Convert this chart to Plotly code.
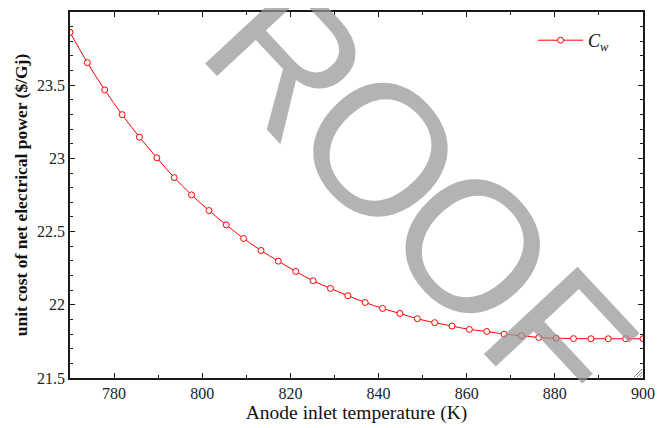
import plotly.graph_objects as go

# ---- data ----
temperature_K = [770.00, 773.94, 777.88, 781.82, 785.76, 789.70, 793.64, 797.58,
                 801.52, 805.45, 809.39, 813.33, 817.27, 821.21, 825.15, 829.09,
                 833.03, 836.97, 840.91, 844.85, 848.79, 852.73, 856.67, 860.61,
                 864.55, 868.48, 872.42, 876.36, 880.30, 884.24, 888.18, 892.12,
                 896.06, 900.00]
unit_cost_Cw = [23.861, 23.654, 23.468, 23.299, 23.145, 23.004, 22.869, 22.751,
                22.644, 22.546, 22.453, 22.371, 22.298, 22.228, 22.164, 22.112,
                22.062, 22.016, 21.975, 21.941, 21.905, 21.878, 21.855, 21.832,
                21.818, 21.800, 21.789, 21.777, 21.772, 21.769, 21.768, 21.768,
                21.768, 21.768]
series_name = "<i>C</i><sub><i>w</i></sub>"
x_title = "Anode inlet temperature (K)"
y_title = "<b>unit cost of net electrical power ($/Gj)</b>"
x_ticks = [780, 800, 820, 840, 860, 880, 900]
y_ticks = [21.5, 22, 22.5, 23, 23.5, 24]
y_tick_labels = ["21.5", "22", "22.5", "23", "23.5", "24"]
watermark_letters = ["P", "R", "O", "O", "F"]

# the page body adds an 8px offset; layout numbers below are in window pixels
OFF = 8
W, H = 666, 428
L, R, T, B = 70 - OFF, 23 + OFF, 12 - OFF, 50 + OFF
PW, PH = W - L - R, H - T - B


def px_to_paper(px, py):
    return (px - OFF - L) / PW, (H - B - (py - OFF)) / PH


SERIF = "Liberation Serif, serif"
AXCOL = "#1a1a1a"

fig = go.Figure()
fig.add_trace(go.Scatter(
    x=temperature_K, y=unit_cost_Cw, name=series_name,
    mode="lines+markers",
    line=dict(color="#ff0000", width=1, shape="spline"),
    marker=dict(symbol="circle", size=6, color="white",
                line=dict(color="#ff0000", width=1)),
))

axis_common = dict(
    showline=True, linecolor=AXCOL, linewidth=1.5, mirror="allticks",
    ticks="inside", ticklen=5, tickwidth=1, tickcolor=AXCOL,
    showgrid=False, zeroline=False, automargin=False,
    tickfont=dict(family=SERIF, size=16, color="#222"),
)
fig.update_xaxes(range=[770, 900], tickvals=x_ticks,
                 minor=dict(dtick=10, ticks="inside", ticklen=3, tickcolor=AXCOL, tick0=770),
                 title=dict(text=x_title, font=dict(family=SERIF, size=19.5, color="#111"),
                            standoff=3),
                 **axis_common)
fig.update_yaxes(range=[21.5, 24], tickvals=y_ticks, ticktext=y_tick_labels,
                 minor=dict(dtick=0.1, ticks="inside", ticklen=3, tickcolor=AXCOL, tick0=21.5),
                 title=dict(text=y_title, font=dict(family=SERIF, size=17.5, color="#111"),
                            standoff=5),
                 **axis_common)

# watermark, one rotated letter at a time (window-pixel centres)
centres = [(196, -46), (288, 57), (381, 149), (473, 247), (560, 340)]
for letter, (px, py) in zip(watermark_letters, centres):
    ax, ay = px_to_paper(px, py)
    fig.add_annotation(
        text=letter, xref="paper", yref="paper", x=ax, y=ay,
        xanchor="center", yanchor="middle", showarrow=False,
        textangle=47,
        font=dict(family="Liberation Sans", size=186,
                  color="rgba(150,150,150,0.72)"),
    )

# small resize-grip hatch in the bottom-right corner
for k in (3, 6, 9):
    fig.add_shape(type="line", xref="paper", yref="paper",
                  x0=1 - 1 / PW, y0=k / PH, x1=1 - k / PW, y1=1 / PH,
                  line=dict(color="#888", width=1))

lx, ly = px_to_paper(533, 22)
fig.update_layout(
    width=W, height=H, margin=dict(l=L, r=R, t=T, b=B, autoexpand=False),
    paper_bgcolor="white", plot_bgcolor="white",
    font=dict(family=SERIF, color="#111"),
    showlegend=True,
    legend=dict(x=lx, y=ly, xanchor="left", yanchor="top",
                bgcolor="rgba(0,0,0,0)", itemwidth=45,
                font=dict(family=SERIF, size=18, color="#111")),
)

fig.write_html("out.html")
